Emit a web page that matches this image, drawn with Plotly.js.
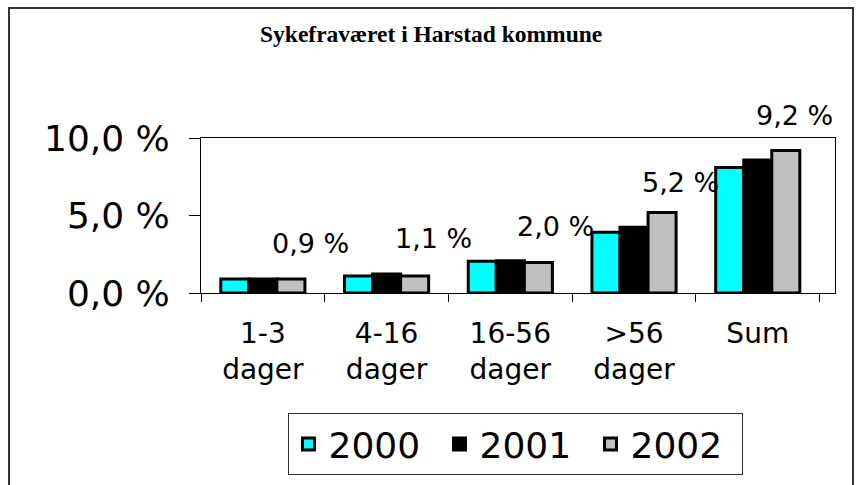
<!DOCTYPE html>
<html>
<head>
<meta charset="utf-8">
<script src="https://cdn.plot.ly/plotly-3.0.1.min.js"></script>
<style>html,body{margin:0;padding:0;background:#fff;}#chart{width:864px;height:485px;}</style>
</head>
<body>
<div id="chart"></div>
<script>
// ---- data ----
const categories = ["1-3<br>dager", "4-16<br>dager", "16-56<br>dager", ">56<br>dager", "Sum"];
const seriesNames = ["2000", "2001", "2002"];
const values2000 = [0.9, 1.1, 2.05, 3.92, 8.1];
const values2001 = [0.9, 1.22, 2.08, 4.25, 8.58];
const values2002 = [0.9, 1.1, 1.96, 5.2, 9.2];
const yTicks = [0, 5, 10];

// ---- style ----
const colors = ["#00FFFF", "#000000", "#C0C0C0"];
const font = "DejaVu Sans, Verdana, sans-serif";
const M = {l: 201, r: 29, t: 138, b: 192, autoexpand: false};
const W = 864, H = 485;
const plotW = W - M.l - M.r, plotH = H - M.t - M.b;
const bargap = 0.32;
const barPx = plotW / categories.length * (1 - bargap) / 3;
// label offsets (px) relative to the 2002 bar's top centre
const labelDx = [19, 18, 16, 18, 8];
const labelDy = [36, 37, 36, 30, 35];

const fmt = v => v.toFixed(1).replace(".", ",") + " %";

const allValues = [values2000, values2001, values2002];
const traces = allValues.map((vals, i) => ({
  type: "bar",
  name: seriesNames[i],
  x: categories,
  y: vals,
  marker: {color: colors[i], line: {color: "#000", width: 3}},
  hoverinfo: "skip"
}));

const annotations = values2002.map((v, i) => ({
  x: categories[i], y: v, xref: "x", yref: "y",
  text: fmt(v),
  showarrow: false, xanchor: "center", yanchor: "middle",
  xshift: barPx + labelDx[i], yshift: labelDy[i],
  font: {family: font, size: 27, color: "#000"}
}));

const layout = {
  width: W, height: H,
  margin: M,
  paper_bgcolor: "#fff", plot_bgcolor: "#fff",
  showlegend: true,
  barmode: "group", bargap: bargap, bargroupgap: 0,
  title: {
    text: "Sykefraværet i Harstad kommune",
    x: 0.499, xref: "container", xanchor: "center",
    y: 1 - 34 / H, yref: "container", yanchor: "middle",
    font: {family: "Liberation Serif, Times New Roman, serif", size: 23.5, weight: "bold", color: "#000"}
  },
  xaxis: {
    type: "category", tickson: "boundaries",
    ticks: "outside", ticklen: 8, tickcolor: "#000",
    showline: true, linecolor: "#000", linewidth: 1, mirror: true,
    showgrid: false, zeroline: false,
    tickfont: {family: font, size: 28, color: "#000"},
    ticklabelstandoff: 15, automargin: false
  },
  yaxis: {
    range: [0, 10], tickmode: "array", tickvals: yTicks, ticktext: yTicks.map(fmt),
    ticks: "outside", ticklen: 11, tickcolor: "#000",
    showline: true, linecolor: "#000", linewidth: 1, mirror: true,
    showgrid: false, zeroline: false,
    tickfont: {family: font, size: 36, color: "#000"},
    ticklabelstandoff: 12, automargin: false
  },
  legend: {
    orientation: "h", x: (515 - M.l) / plotW, xanchor: "center",
    y: (H - M.b - 413) / plotH, yanchor: "top",
    bordercolor: "#333", borderwidth: 1, bgcolor: "#fff",
    font: {family: font, size: 36, color: "#000"},
    traceorder: "normal",
    entrywidth: 106, entrywidthmode: "pixels"
  },
  annotations: annotations,
  shapes: [{
    type: "rect", xref: "paper", yref: "paper",
    x0: (9 - M.l) / plotW, x1: (853 - M.l) / plotW,
    y0: (H - M.b - 495) / plotH, y1: (H - M.b - 8) / plotH,
    line: {color: "#333", width: 2}, fillcolor: "rgba(0,0,0,0)", layer: "below"
  }]
};

Plotly.newPlot("chart", traces, layout, {displayModeBar: false, staticPlot: true});
</script>
</body>
</html>
